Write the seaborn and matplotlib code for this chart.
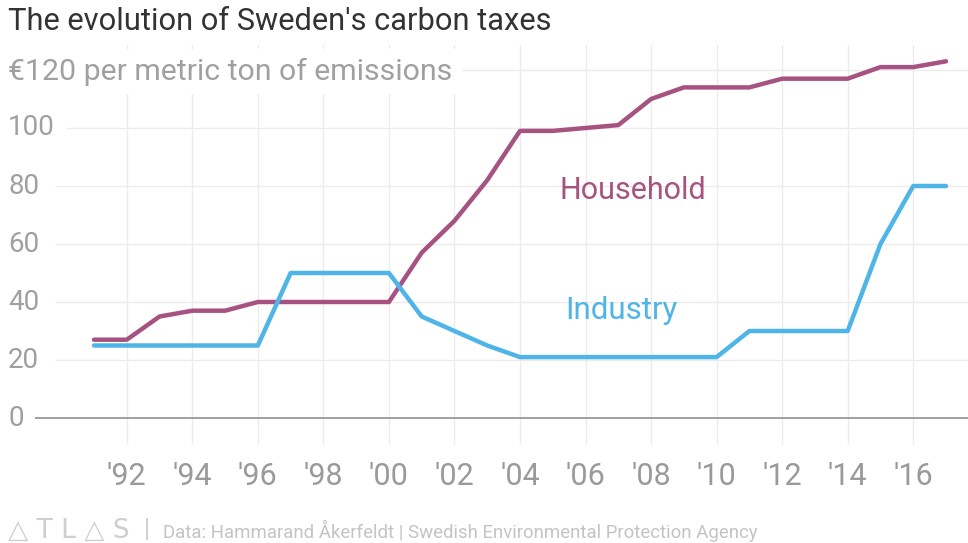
import matplotlib
matplotlib.use("Agg")
import matplotlib.pyplot as plt
import matplotlib.transforms as mtransforms
import seaborn as sns
import pandas as pd

years = list(range(1991, 2018))
household = [27, 27, 35, 37, 37, 40, 40, 40, 40, 40, 57, 68, 82, 99, 99, 100, 101,
             110, 114, 114, 114, 117, 117, 117, 121, 121, 123]
industry = [25, 25, 25, 25, 25, 25, 50, 50, 50, 50, 35, 30, 25, 21, 21, 21, 21,
            21, 21, 21, 30, 30, 30, 30, 60, 80, 80]
series_names = ["Household", "Industry"]
xtick_years = list(range(1992, 2017, 2))
xtick_labels = ["'" + str(y)[2:] for y in xtick_years]
ytick_values = [0, 20, 40, 60, 80, 100, 120]
ytick_labels = ["0", "20", "40", "60", "80", "100", "€120 per metric ton of emissions"]

colors = {"Household": "#a65382", "Industry": "#4fb4e7"}

df = pd.concat([
    pd.DataFrame({"year": years, "value": household, "series": "Household"}),
    pd.DataFrame({"year": years, "value": industry, "series": "Industry"}),
])

sns.set_theme(style="white")
plt.rcParams["font.family"] = ["Roboto", "DejaVu Sans"]

W, H = 968, 543
fig = plt.figure(figsize=(W / 100, H / 100), dpi=100)
ax = fig.add_axes([0, (H - 445) / H, 1, 400 / H])

px_per_year = (946 - 94) / 26
x0 = 1991 - 94 / px_per_year
x1 = 1991 + (W - 94) / px_per_year
ax.set_xlim(x0, x1)
ax.set_ylim((418 - 445) / 2.9, (418 - 45) / 2.9)

def px2x(p):
    return x0 + p / px_per_year

# horizontal grid lines, starting right after each label
starts = {0: 35, 20: 55, 40: 55, 60: 55, 80: 55, 100: 66, 120: 462}
for v in ytick_values:
    ax.hlines(v, px2x(starts[v]), x1, color="#999999" if v == 0 else "#ececec",
              lw=1.3 if v == 0 else 1.0, zorder=1 if v else 2)

sns.lineplot(data=df, x="year", y="value", hue="series", palette=colors,
             hue_order=series_names, lw=3.2, ax=ax, legend=False, zorder=3)

for s in ax.spines.values():
    s.set_visible(False)
ax.set_xticks(xtick_years)
ax.set_xticklabels(xtick_labels)
ax.tick_params(axis="x", length=0, pad=12, labelsize=22, labelcolor="#9a9a9a")
for t in ax.get_xticklabels():
    t.set_fontstretch("condensed")
ax.set_yticks([])
ax.grid(axis="x", color="#ececec", lw=1.0, zorder=0)
ax.grid(axis="y", visible=False)
ax.set_xlabel("")
ax.set_ylabel("")

trans = mtransforms.blended_transform_factory(ax.transAxes, ax.transData)
for v, lab in zip(ytick_values, ytick_labels):
    kw = {}
    size = 20
    yy = v
    if v == 120:
        kw["bbox"] = dict(facecolor="white", edgecolor="none", pad=6)
        size = 21.8
        yy = v - 0.6
    ax.text(8 / W, yy, lab, transform=trans, ha="left", va="center",
            fontsize=size, color="#a0a0a0", zorder=4, **kw)

ax.text(2007.45, 78.4, "Household", ha="center", va="center", fontsize=22,
        color=colors["Household"])
ax.text(2007.1, 36.9, "Industry", ha="center", va="center", fontsize=22.5,
        color=colors["Industry"])

fig.text(8 / W, 1 - 21 / H, "The evolution of Sweden's carbon taxes", ha="left",
         va="center", fontsize=22.2, color="#333333")
fig.text(8 / W, 1 - 531 / H, "△ T L △ S", ha="left", va="center", fontsize=19,
         color="#cfcfcf", family=["DejaVu Sans"])
fig.text(144 / W, 1 - 530 / H, "|", ha="left", va="center", fontsize=18,
         color="#cfcfcf")
fig.text(163 / W, 1 - 531 / H,
         "Data: Hammarand Åkerfeldt | Swedish Environmental Protection Agency",
         ha="left", va="center", fontsize=13.4, color="#c4c4c4")

fig.savefig("out.png", dpi=100)
